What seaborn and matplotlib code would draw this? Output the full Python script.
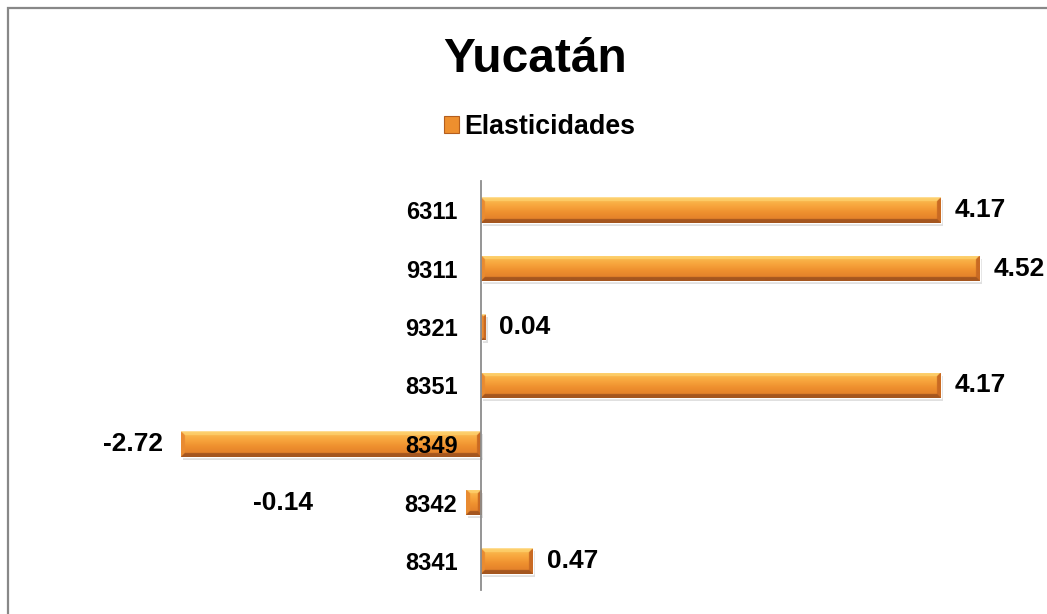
import numpy as np
import pandas as pd
import seaborn as sns
import matplotlib
matplotlib.use("Agg")
import matplotlib.pyplot as plt
from matplotlib.patches import Rectangle, Patch
from matplotlib.colors import to_rgb

# --- data -------------------------------------------------------------
title = "Yucatán"
series_name = "Elasticidades"
categories = ["6311", "9311", "9321", "8351", "8349", "8342", "8341"]
values = [4.17, 4.52, 0.04, 4.17, -2.72, -0.14, 0.47]

df = pd.DataFrame({"clase": categories, "valor": values})

sns.set_theme(style="white")
plt.rcParams["font.family"] = ["Liberation Sans", "DejaVu Sans"]
plt.rcParams["font.weight"] = "bold"
plt.rcParams["text.color"] = "black"

W_PX, H_PX, DPI = 1047, 614, 100
fig = plt.figure(figsize=(W_PX / DPI, H_PX / DPI), dpi=DPI)
fig.patch.set_facecolor("white")

# axes placed so that zero sits at x=481 px and categories span y 181..590 px
left_px, right_px = 150.2, 1032.5
top_px, bot_px = 180.75, 590.25
ax = fig.add_axes([left_px / W_PX, 1 - bot_px / H_PX,
                   (right_px - left_px) / W_PX, (bot_px - top_px) / H_PX])

base = "#EE8F2E"
sns.barplot(data=df, x="valor", y="clase", order=categories, orient="h",
            color=base, width=0.44, saturation=1, ax=ax, zorder=1)

ax.set_xlim(-3, 5)
ax.set_ylim(len(categories) - 0.5, -0.5)


def bevel_image(wpx, hpx, scale=3):
    """RGB image of a bevelled orange bar, wpx x hpx pixels."""
    W = max(int(round(wpx * scale)), 2)
    H = max(int(round(hpx * scale)), 2)
    b = 4.0 * scale
    ii, jj = np.mgrid[0:H, 0:W].astype(float)
    t = ii / (H - 1)
    stops = [0.0, 0.35, 0.6, 1.0]
    cols = [np.array(to_rgb(c)) for c in ("#FBC255", "#F7A43C", "#EE8F2E", "#DE7A28")]
    img = np.zeros((H, W, 3))
    for ch in range(3):
        img[..., ch] = np.interp(t, stops, [c[ch] for c in cols])
    d_top, d_bot = ii, (H - 1) - ii
    d_left, d_right = jj, (W - 1) - jj
    stack = np.stack([d_top, d_bot, d_left, d_right])
    which = np.argmin(stack, axis=0)
    dmin = np.min(stack, axis=0)
    edge_cols = [np.array(to_rgb(c)) for c in ("#FDCD68", "#A5561F", "#E98B31", "#C96A23")]
    mask = dmin < b
    for k, c in enumerate(edge_cols):
        m = mask & (which == k)
        img[m] = c
    # thin bright highlight on the very top
    img[: max(1, scale)] = np.array(to_rgb("#FFE09A"))
    return img


ppu = (right_px - left_px) / 8.0
bar_h_px = (bot_px - top_px) / len(categories) * 0.44
for patch in list(ax.patches):
    x0, y0 = patch.get_x(), patch.get_y()
    w, h = patch.get_width(), patch.get_height()
    xa, xb = min(x0, x0 + w), max(x0, x0 + w)
    # soft shadow underneath
    ax.add_patch(Rectangle((xa + 0.02, y0 + 0.05), xb - xa, h, facecolor="#000000",
                           alpha=0.12, edgecolor="none", zorder=0.9))
    img = bevel_image(abs(w) * ppu, bar_h_px)
    im = ax.imshow(img, extent=(xa, xb, y0 + h, y0), aspect="auto",
                   interpolation="bilinear", zorder=1.2)
    im.set_clip_path(patch)

ax.set_xlim(-3, 5)
ax.set_ylim(len(categories) - 0.5, -0.5)

# value labels
for i, v in enumerate(values):
    if v >= 0:
        ax.text(v + 14 / ppu, i, f"{v:.2f}", ha="left", va="center",
                fontsize=19, fontweight="bold", color="black", zorder=3)
    else:
        xr = min(v, -1.36) - 18 / ppu
        ax.text(xr, i, f"{v:.2f}", ha="right", va="center",
                fontsize=19, fontweight="bold", color="black", zorder=3)

# axes styling: only the zero line and category labels, drawn above the bars
ax.set_axisbelow(False)
for s in ("top", "right", "bottom"):
    ax.spines[s].set_visible(False)
ax.spines["left"].set_position(("data", 0))
ax.spines["left"].set_color("#8C8C8C")
ax.spines["left"].set_linewidth(1.3)
ax.spines["left"].set_zorder(2.5)
ax.set_xticks([])
ax.tick_params(axis="y", length=0, pad=17, labelsize=17, labelcolor="black")
for lab in ax.get_yticklabels():
    lab.set_fontweight("bold")
ax.set_xlabel("")
ax.set_ylabel("")
ax.patch.set_alpha(0)

# title and legend
fig.text(535 / W_PX, 1 - 59 / H_PX, title, ha="center", va="center",
         fontsize=34.5, fontweight="bold", color="black")
handle = Patch(facecolor=base, edgecolor="#B45E1E", linewidth=0.8)
leg = fig.legend([handle], [series_name], loc="center",
                 bbox_to_anchor=(540 / W_PX, 1 - 127 / H_PX), frameon=False,
                 prop={"size": 19.3, "weight": "bold"}, handlelength=0.55,
                 handleheight=0.55, handletextpad=0.2, borderpad=0)
for txt in leg.get_texts():
    txt.set_color("black")

# chart frame
fig.add_artist(Rectangle((7.5 / W_PX, -0.2), 1.2, 1 - 8.5 / H_PX + 0.2,
                         transform=fig.transFigure, facecolor="none",
                         edgecolor="#888888", linewidth=1.6))

fig.savefig("out.png", dpi=DPI)
